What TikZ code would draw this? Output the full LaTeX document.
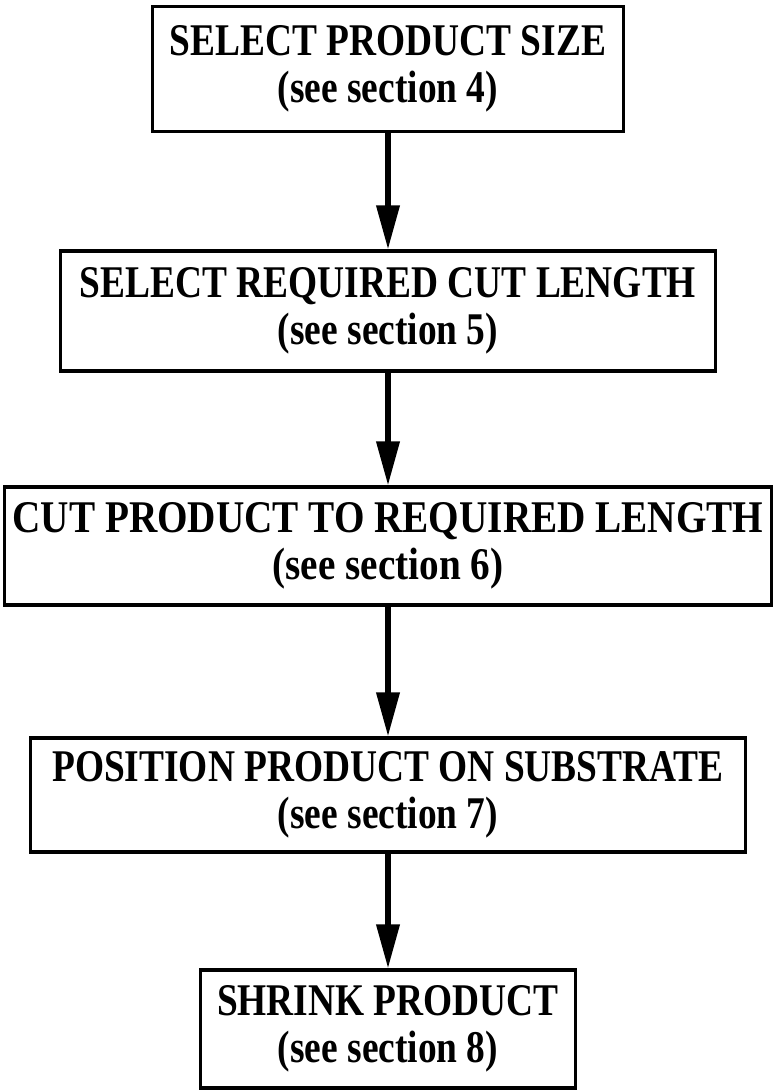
\documentclass[tikz,border=0pt]{standalone}
\usepackage{fontspec}
\setmainfont[FakeStretch=0.825]{Liberation Serif}
\newfontfamily\widerserif[FakeStretch=0.865]{Liberation Serif}
\usetikzlibrary{arrows.meta}
\begin{document}
\begin{tikzpicture}[x=0.75pt,y=-0.75pt,
  stepbox/.style={draw, line width=2.6pt, inner sep=0pt, align=center,
    font=\bfseries\fontsize{34}{35}\selectfont,
    execute at begin node={\rule{0pt}{31pt}}},
  widebox/.style={stepbox, font=\widerserif\bfseries\fontsize{34}{35}\selectfont},
  flow/.style={line width=3.8pt, -{Triangle[length=33pt,width=17pt]}}]
\useasboundingbox (0,0) rectangle (774,1091);
\node[stepbox, minimum width=353pt, minimum height=93.75pt] (b1) at (388,69)
  {SELECT PRODUCT SIZE\\(see section 4)};
\node[stepbox, minimum width=491pt, minimum height=90pt] (b2) at (388,311)
  {SELECT REQUIRED CUT LENGTH\\(see section 5)};
\node[widebox, minimum width=575pt, minimum height=88.5pt] (b3) at (388,546)
  {CUT PRODUCT TO REQUIRED LENGTH\\(see section 6)};
\node[stepbox, minimum width=536pt, minimum height=85.5pt] (b4) at (388,795)
  {POSITION PRODUCT ON SUBSTRATE\\(see section 7)};
\node[stepbox, minimum width=281pt, minimum height=88.5pt] (b5) at (388,1029)
  {SHRINK PRODUCT\\(see section 8)};
\draw[flow] (b1) -- (b2);
\draw[flow] (b2) -- (b3);
\draw[flow] (b3) -- (b4);
\draw[flow] (b4) -- (b5);
\end{tikzpicture}
\end{document}
